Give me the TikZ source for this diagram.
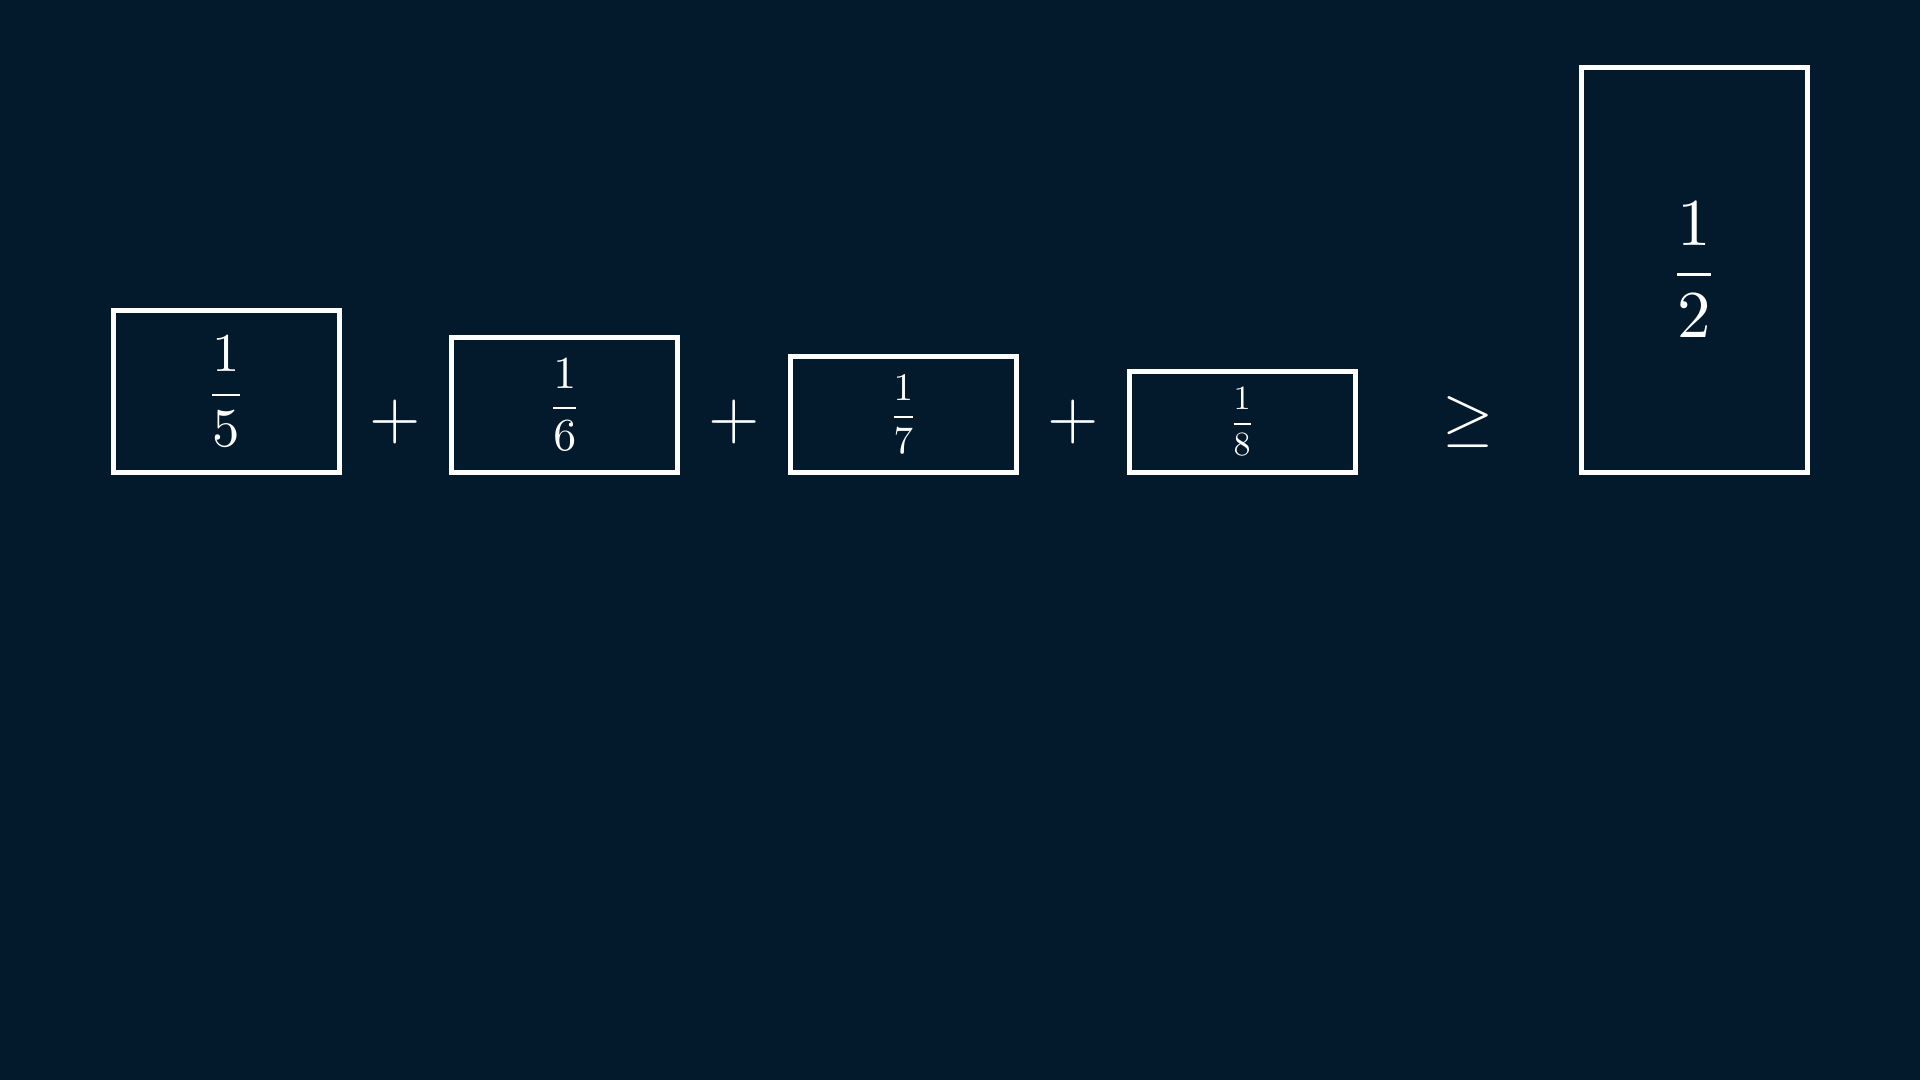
\documentclass[tikz,border=0pt]{standalone}
\usepackage{amsmath}
\usepackage{graphicx}
\definecolor{bgnavy}{RGB}{3,26,45}
\begin{document}
\begin{tikzpicture}[x=0.5pt,y=-0.5pt,
  fracbox/.style={draw=white, line width=2.5pt, rectangle, inner sep=0pt,
    minimum width=113pt, text=white},
  opsym/.style={text=white, inner sep=0pt}]
\fill[bgnavy] (0,0) rectangle (1920,1080);
\useasboundingbox (0,0) rectangle (1920,1080);
\node[fracbox, minimum height=81pt] (b5) at (226,391.5) {\scalebox{2.735}{$\displaystyle\frac{1}{5}$}};
\node[fracbox, minimum height=67.5pt] (b6) at (564.7,405) {\scalebox{2.29}{$\displaystyle\frac{1}{6}$}};
\node[fracbox, minimum height=57.86pt] (b7) at (903.4,414.64) {\scalebox{1.95}{$\displaystyle\frac{1}{7}$}};
\node[fracbox, minimum height=50.625pt] (b8) at (1242.1,421.875) {\scalebox{1.7}{$\displaystyle\frac{1}{8}$}};
\node[fracbox, minimum height=202.5pt] (b2) at (1694,270) {\scalebox{3.35}{$\displaystyle\frac{1}{2}$}};
\node[opsym] (p1) at (395.3,421.9) {\scalebox{3.3}{$+$}};
\node[opsym] (p2) at (734,421.9) {\scalebox{3.3}{$+$}};
\node[opsym] (p3) at (1072.8,421.9) {\scalebox{3.3}{$+$}};
\node[opsym] (ge) at (1468,421.9) {\scalebox{3.3}{$\geq$}};
\end{tikzpicture}
\end{document}
